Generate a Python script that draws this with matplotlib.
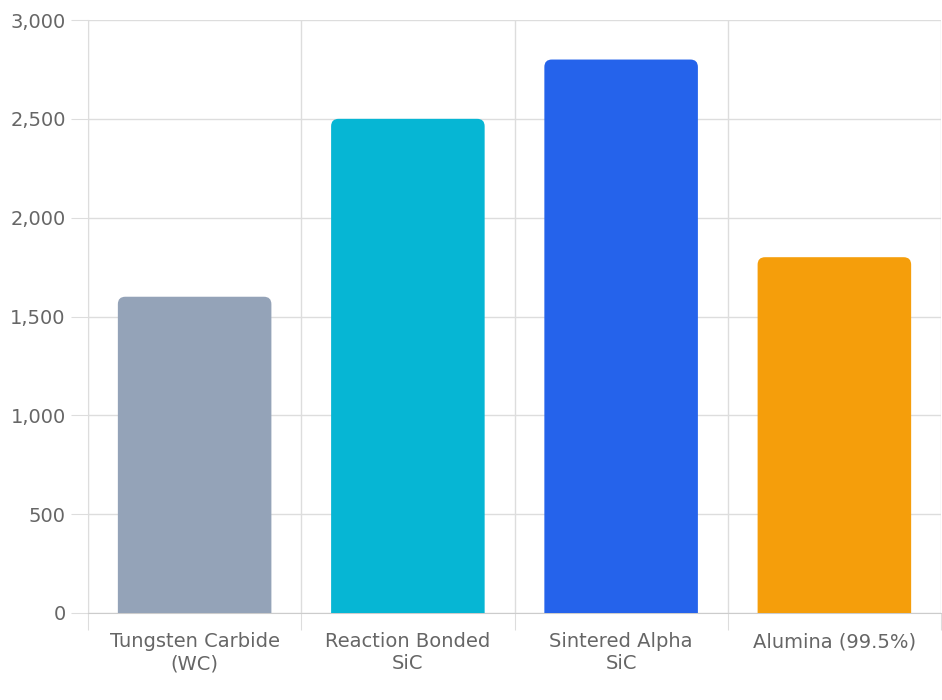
import matplotlib.pyplot as plt
from matplotlib.patches import FancyBboxPatch
from matplotlib.ticker import FuncFormatter

categories = ["Tungsten Carbide\n(WC)", "Reaction Bonded\nSiC", "Sintered Alpha\nSiC", "Alumina (99.5%)"]
values = [1600, 2500, 2800, 1800]
colors = ["#94a3b8", "#06b6d4", "#2563eb", "#f59e0b"]

fig = plt.figure(figsize=(9.42, 7.0), dpi=100)
ax = fig.add_axes([88 / 942, 1 - 613 / 700, 853 / 942, 593 / 700])
ax.set_xlim(-0.5, 3.5)
ax.set_ylim(0, 3000)

width = 0.72
pad = 0.035
aspect = (3000 / 593) / (4 / 853)
for i, (v, c) in enumerate(zip(values, colors)):
    box = FancyBboxPatch((i - width / 2 + pad, -300), width - 2 * pad, v + 300 - pad * aspect,
                         boxstyle=f"round,pad={pad}", mutation_aspect=aspect,
                         fc=c, ec="none", zorder=3)
    ax.add_patch(box)

grid = "#dddddd"
ax.set_yticks(range(0, 3001, 500))
ax.yaxis.set_major_formatter(FuncFormatter(lambda v, p: f"{int(v):,}"))
ax.set_xticks([-0.5, 0.5, 1.5, 2.5, 3.5])
ax.set_xticklabels([])
ax.set_xticks(range(len(categories)), minor=True)
ax.set_xticklabels(categories, minor=True, fontsize=14, color="#666666")
ax.tick_params(axis="x", which="major", length=12, color=grid)
ax.tick_params(axis="x", which="minor", length=0, pad=14)
ax.tick_params(axis="y", length=12, color=grid, labelsize=14, labelcolor="#666666", pad=4)
ax.grid(True, color=grid, linewidth=1, zorder=0)
for s in ["top", "right"]:
    ax.spines[s].set_visible(False)
ax.spines["left"].set_color(grid)
ax.spines["bottom"].set_color("#cccccc")

fig.savefig("out.png", dpi=100)
